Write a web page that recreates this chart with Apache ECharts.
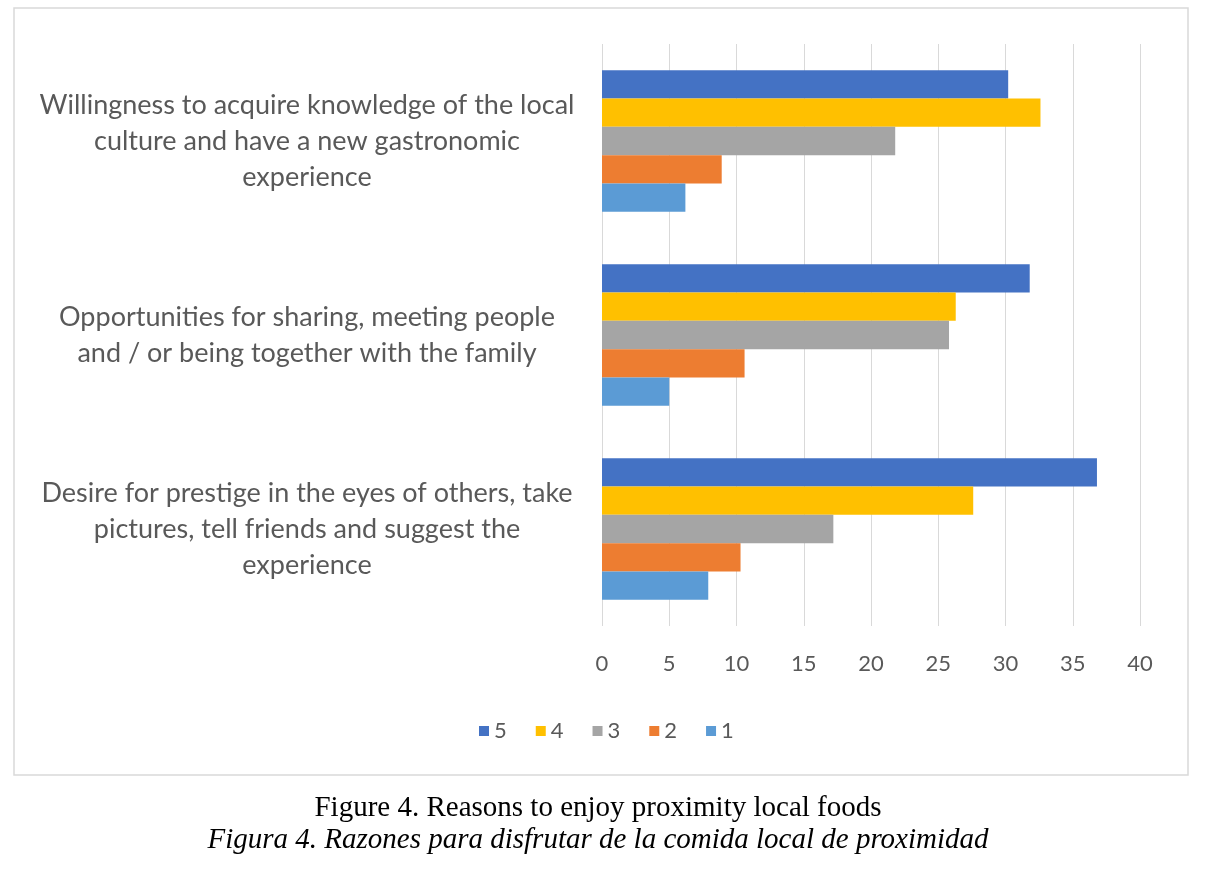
<!DOCTYPE html>
<html>
<head>
<meta charset="utf-8">
<script src="https://cdn.jsdelivr.net/npm/echarts@6/dist/echarts.min.js"></script>
<style>
  html, body { margin: 0; padding: 0; background: #fff; }
  #main { width: 1225px; height: 881px; }
</style>
</head>
<body>
<div id="main"></div>
<script>
// reasons, top to bottom
const reasons = [
    'Willingness to acquire knowledge of the local\nculture and have a new gastronomic\nexperience',
    'Opportunities for sharing, meeting people\nand / or being together with the family',
    'Desire for prestige in the eyes of others, take\npictures, tell friends and suggest the\nexperience'
];

// score levels, in legend order
const levels = ['5', '4', '3', '2', '1'];
const levelColors = ['#4472C4', '#FFC000', '#A5A5A5', '#ED7D31', '#5B9BD5'];

// values per level, one per reason
const score5 = [30.2, 31.8, 36.8];
const score4 = [32.6, 26.3, 27.6];
const score3 = [21.8, 25.8, 17.2];
const score2 = [8.9, 10.6, 10.3];
const score1 = [6.2, 5.0, 7.9];
const scoreValues = [score5, score4, score3, score2, score1];

const xTicks = { min: 0, max: 40, interval: 5 };

const captionEn = 'Figure 4. Reasons to enjoy proximity local foods';
const captionEs = 'Figura 4. Razones para disfrutar de la comida local de proximidad';

const myChart = echarts.init(document.getElementById('main'));

const option = {
    animation: false,
    backgroundColor: '#fff',
    color: levelColors,
    grid: {
        left: 602,
        right: 85,
        top: 44,
        bottom: 255,
    },
    legend: {
        data: levels,
        left: 474,
        top: 715,
        icon: 'rect',
        itemWidth: 10,
        itemHeight: 10,
        itemGap: 29,
        textStyle: {
            fontFamily: 'Lato',
            fontSize: 22,
            color: '#595959',
        },
    },
    xAxis: {
        type: 'value',
        min: xTicks.min,
        max: xTicks.max,
        interval: xTicks.interval,
        axisLine: { show: false },
        axisTick: { show: false },
        axisLabel: {
            margin: 27,
            fontFamily: 'Lato',
            fontSize: 22,
            color: '#595959',
        },
        splitLine: {
            lineStyle: { color: '#d9d9d9', width: 1 },
        },
    },
    yAxis: {
        type: 'category',
        inverse: true,
        data: reasons,
        axisLine: { show: false },
        axisTick: { show: false },
        axisLabel: {
            align: 'center',
            margin: 295,
            lineHeight: 36,
            fontFamily: 'Lato',
            fontSize: 27,
            color: '#595959',
        },
    },
    series: levels.map(function (name, i) {
        return {
            name: name,
            type: 'bar',
            data: scoreValues[i],
            barGap: '0%',
            barCategoryGap: '27%',
        };
    }),
    graphic: [
        {
            type: 'rect',
            shape: { x: 14, y: 8, width: 1174, height: 767 },
            style: { fill: 'none', stroke: '#d9d9d9', lineWidth: 1.5 },
            silent: true,
        },
        {
            type: 'text',
            x: 598,
            y: 808,
            style: {
                text: captionEn,
                fill: '#000',
                font: '29px "Liberation Serif"',
                textAlign: 'center',
                textVerticalAlign: 'middle',
            },
        },
        {
            type: 'text',
            x: 598,
            y: 840,
            style: {
                text: captionEs,
                fill: '#000',
                font: 'italic 29px "Liberation Serif"',
                textAlign: 'center',
                textVerticalAlign: 'middle',
            },
        },
    ],
};

myChart.setOption(option);
</script>
</body>
</html>
